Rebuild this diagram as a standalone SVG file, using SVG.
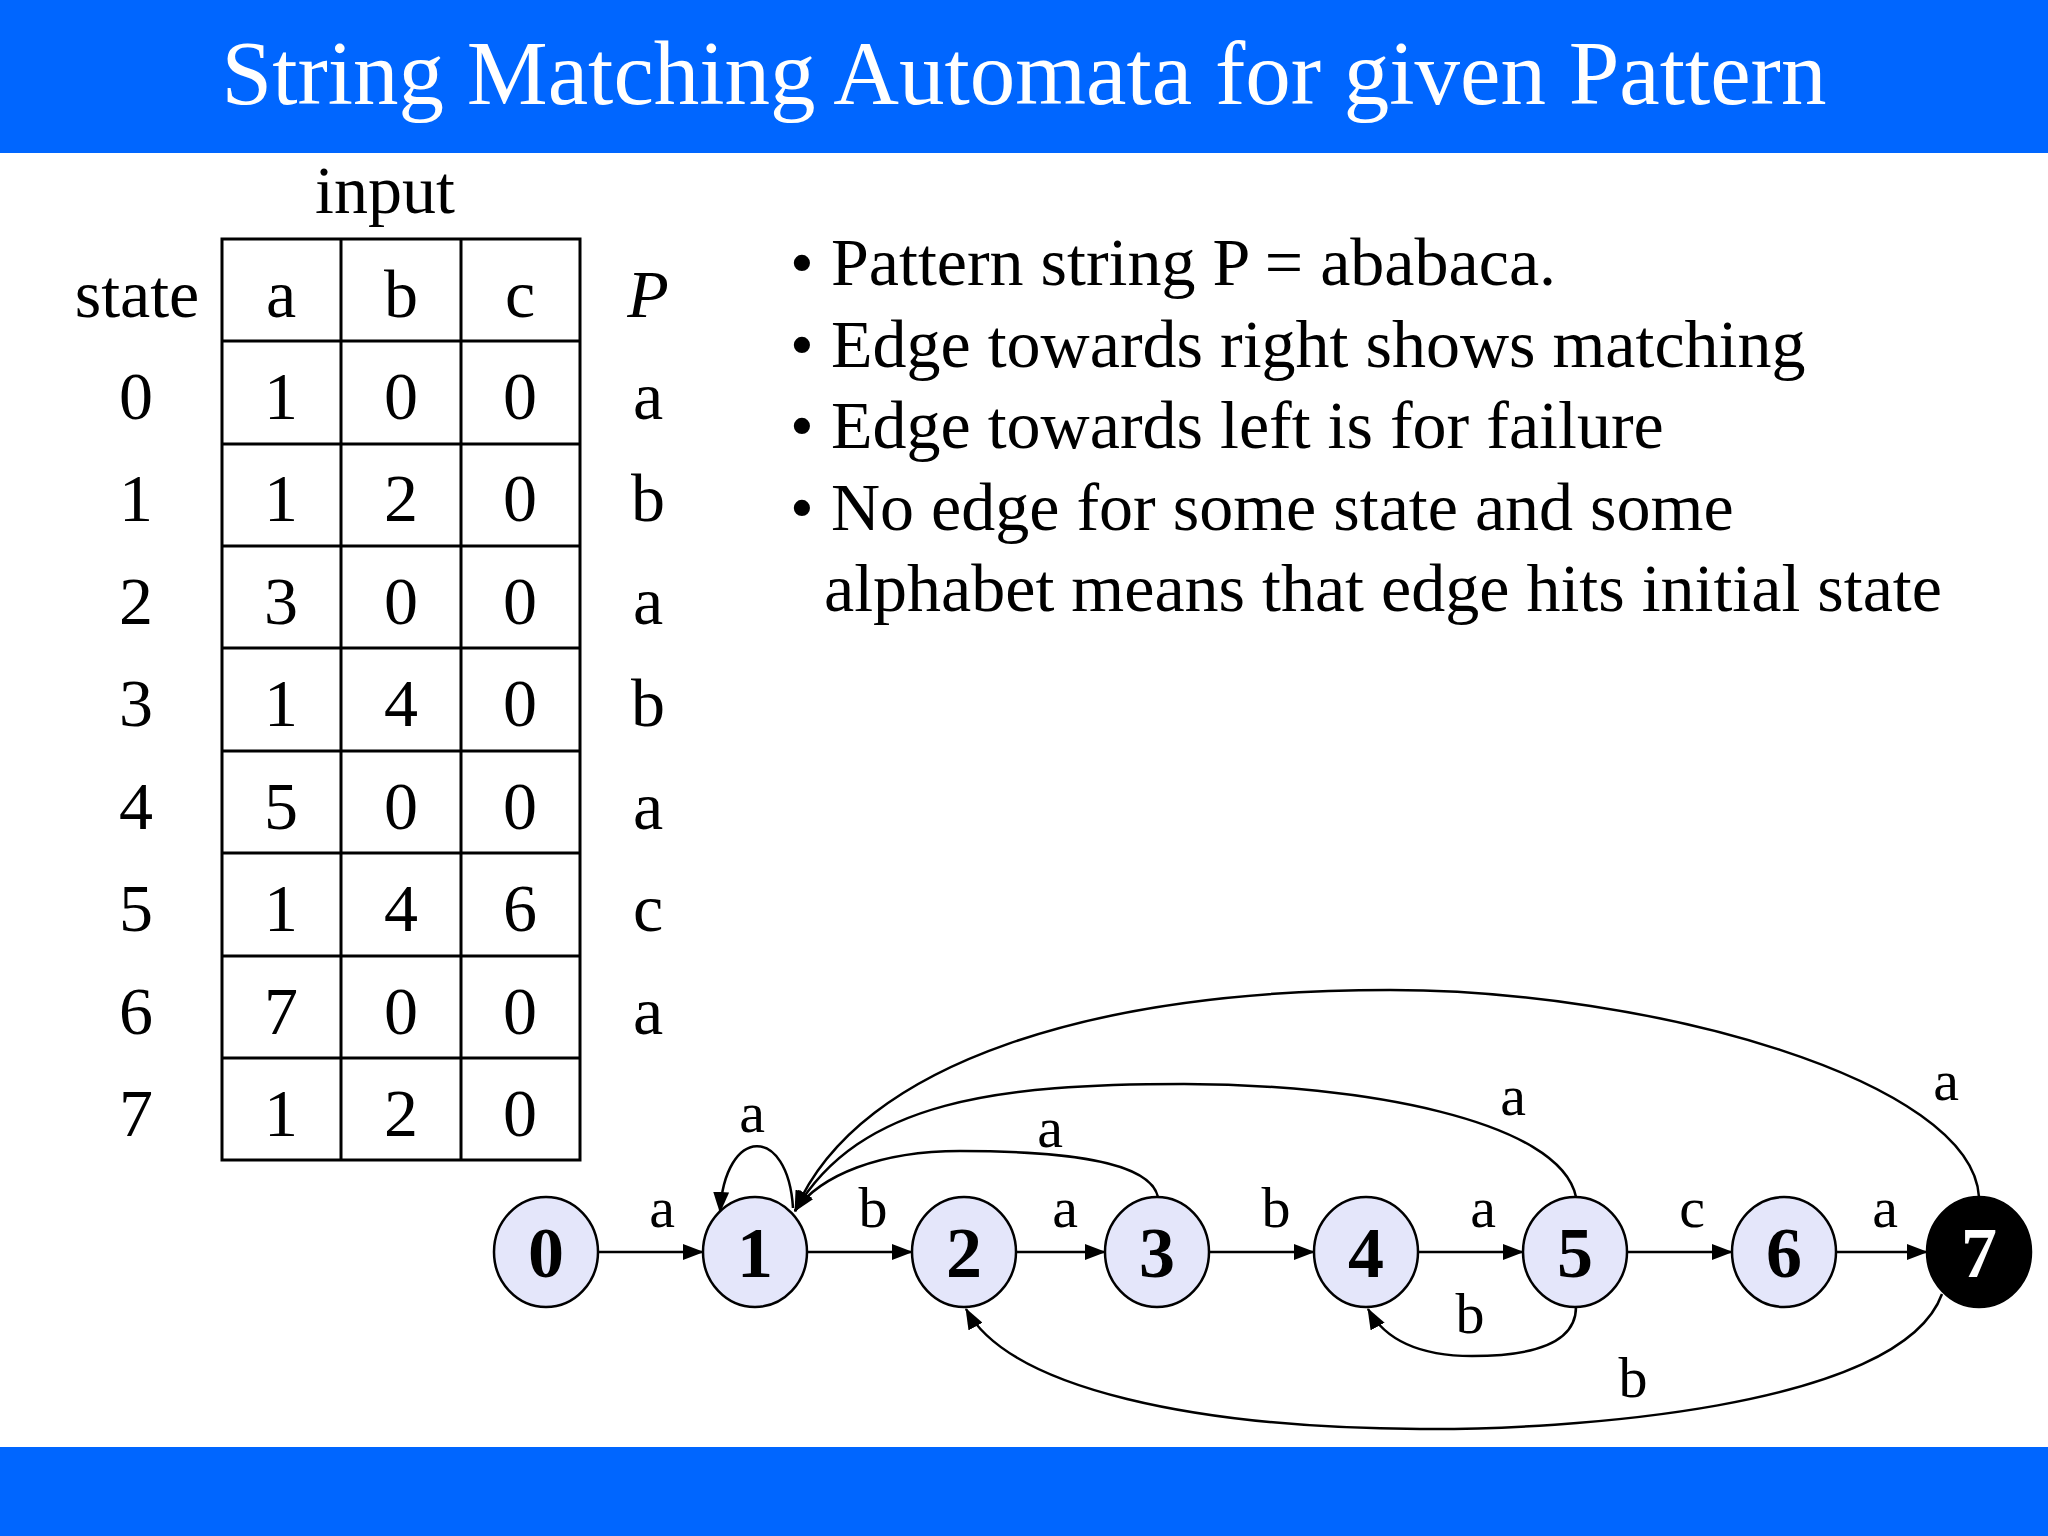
<svg xmlns="http://www.w3.org/2000/svg" width="2048" height="1536" viewBox="0 0 2048 1536">
<defs>
<marker id="arr" markerWidth="21" markerHeight="16" refX="20" refY="8" orient="auto" markerUnits="userSpaceOnUse">
<path d="M0,0 L21,8 L0,16 Z" fill="#000"/>
</marker>
<style>
.serif{font-family:"Liberation Serif","Times New Roman",serif;}
.t68{font-size:68px;fill:#000;}
.mid{text-anchor:middle;}
.grid{stroke:#000;stroke-width:3;fill:none;}
.node{fill:#E4E6FA;stroke:#000;stroke-width:2.5;}
.nlab{font-family:"Liberation Serif","Times New Roman",serif;font-size:72px;font-weight:bold;text-anchor:middle;fill:#000;}
.edge{stroke:#000;stroke-width:2.5;fill:none;marker-end:url(#arr);}
.elab{font-family:"Liberation Serif","Times New Roman",serif;font-size:58px;text-anchor:middle;fill:#000;}
</style>
</defs>
<rect x="0" y="0" width="2048" height="1536" fill="#fff"/>
<rect x="0" y="0" width="2048" height="153" fill="#0066FF"/>
<rect x="0" y="1447" width="2048" height="89" fill="#0066FF"/>
<text x="1024" y="104" class="serif mid" font-size="91" fill="#fff">String Matching Automata for given Pattern</text>

<g id="table">
<text x="385" y="213" class="serif t68 mid">input</text>
<rect x="222" y="239" width="358" height="921" class="grid"/>
<line x1="341" y1="239" x2="341" y2="1160" class="grid"/>
<line x1="461" y1="239" x2="461" y2="1160" class="grid"/>
<line x1="222" y1="341" x2="580" y2="341" class="grid"/>
<line x1="222" y1="444" x2="580" y2="444" class="grid"/>
<line x1="222" y1="546" x2="580" y2="546" class="grid"/>
<line x1="222" y1="648" x2="580" y2="648" class="grid"/>
<line x1="222" y1="751" x2="580" y2="751" class="grid"/>
<line x1="222" y1="853" x2="580" y2="853" class="grid"/>
<line x1="222" y1="956" x2="580" y2="956" class="grid"/>
<line x1="222" y1="1058" x2="580" y2="1058" class="grid"/>
<g class="serif t68 mid">
<text x="137" y="317">state</text><text x="281" y="317">a</text><text x="401" y="317">b</text><text x="520" y="317">c</text><text x="648" y="317" font-style="italic">P</text>
<text x="136" y="419">0</text><text x="281" y="419">1</text><text x="401" y="419">0</text><text x="520" y="419">0</text><text x="648" y="419">a</text>
<text x="136" y="521">1</text><text x="281" y="521">1</text><text x="401" y="521">2</text><text x="520" y="521">0</text><text x="648" y="521">b</text>
<text x="136" y="624">2</text><text x="281" y="624">3</text><text x="401" y="624">0</text><text x="520" y="624">0</text><text x="648" y="624">a</text>
<text x="136" y="726">3</text><text x="281" y="726">1</text><text x="401" y="726">4</text><text x="520" y="726">0</text><text x="648" y="726">b</text>
<text x="136" y="829">4</text><text x="281" y="829">5</text><text x="401" y="829">0</text><text x="520" y="829">0</text><text x="648" y="829">a</text>
<text x="136" y="931">5</text><text x="281" y="931">1</text><text x="401" y="931">4</text><text x="520" y="931">6</text><text x="648" y="931">c</text>
<text x="136" y="1034">6</text><text x="281" y="1034">7</text><text x="401" y="1034">0</text><text x="520" y="1034">0</text><text x="648" y="1034">a</text>
<text x="136" y="1136">7</text><text x="281" y="1136">1</text><text x="401" y="1136">2</text><text x="520" y="1136">0</text>
</g>
</g>

<g id="bullets" class="serif t68">
<text x="790" y="285">•</text><text x="831" y="285">Pattern string P = ababaca.</text>
<text x="790" y="367">•</text><text x="831" y="367">Edge towards right shows matching</text>
<text x="790" y="448">•</text><text x="831" y="448">Edge towards left is for failure</text>
<text x="790" y="530">•</text><text x="831" y="530">No edge for some state and some</text>
<text x="824" y="611">alphabet means that edge hits initial state</text>
</g>

<g id="connectors">
<line x1="598" y1="1252" x2="703" y2="1252" class="edge"/>
<line x1="807" y1="1252" x2="912" y2="1252" class="edge"/>
<line x1="1016" y1="1252" x2="1105" y2="1252" class="edge"/>
<line x1="1209" y1="1252" x2="1314" y2="1252" class="edge"/>
<line x1="1418" y1="1252" x2="1523" y2="1252" class="edge"/>
<line x1="1627" y1="1252" x2="1732" y2="1252" class="edge"/>
<line x1="1836" y1="1252" x2="1927" y2="1252" class="edge"/>
<path d="M793,1208 C788,1125 725,1125 720,1212" class="edge"/>
<path d="M1158,1197 C1150,1160 1060,1151 960,1151 C880,1151 820,1175 795,1211" class="edge"/>
<path d="M1576,1197 C1560,1120 1360,1084 1184,1084 C1000,1084 860,1100 795,1211" class="edge"/>
<path d="M1979,1197 C1972,1080 1650,990 1390,990 C1100,990 860,1060 795,1211" class="edge"/>
<path d="M1576,1307 C1576,1345 1530,1356 1472,1356 C1420,1356 1385,1340 1368,1309" class="edge"/>
<path d="M1942,1294 C1900,1410 1560,1430 1420,1429 C1200,1428 1010,1390 966,1309" class="edge"/>
<text x="662" y="1227" class="elab">a</text>
<text x="873" y="1227" class="elab">b</text>
<text x="1065" y="1227" class="elab">a</text>
<text x="1276" y="1227" class="elab">b</text>
<text x="1483" y="1227" class="elab">a</text>
<text x="1692" y="1227" class="elab">c</text>
<text x="1885" y="1227" class="elab">a</text>
<text x="752" y="1132" class="elab">a</text>
<text x="1050" y="1147" class="elab">a</text>
<text x="1513" y="1115" class="elab">a</text>
<text x="1946" y="1100" class="elab">a</text>
<text x="1470" y="1333" class="elab">b</text>
<text x="1633" y="1397" class="elab">b</text>
</g>

<g id="node0"><ellipse cx="546" cy="1252" rx="52" ry="55" class="node"/><text x="546" y="1277" class="nlab">0</text></g>
<g id="node1"><ellipse cx="755" cy="1252" rx="52" ry="55" class="node"/><text x="755" y="1277" class="nlab">1</text></g>
<g id="node2"><ellipse cx="964" cy="1252" rx="52" ry="55" class="node"/><text x="964" y="1277" class="nlab">2</text></g>
<g id="node3"><ellipse cx="1157" cy="1252" rx="52" ry="55" class="node"/><text x="1157" y="1277" class="nlab">3</text></g>
<g id="node4"><ellipse cx="1366" cy="1252" rx="52" ry="55" class="node"/><text x="1366" y="1277" class="nlab">4</text></g>
<g id="node5"><ellipse cx="1575" cy="1252" rx="52" ry="55" class="node"/><text x="1575" y="1277" class="nlab">5</text></g>
<g id="node6"><ellipse cx="1784" cy="1252" rx="52" ry="55" class="node"/><text x="1784" y="1277" class="nlab">6</text></g>
<g id="node7"><ellipse cx="1979" cy="1252" rx="52" ry="55" fill="#000" stroke="#000" stroke-width="2.5"/><text x="1979" y="1277" class="nlab" fill="#fff" style="fill:#fff">7</text></g>
</svg>
